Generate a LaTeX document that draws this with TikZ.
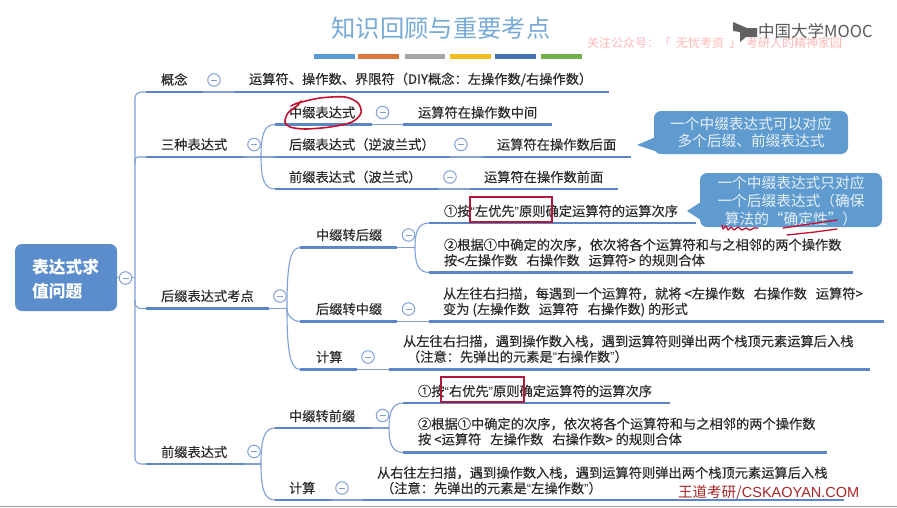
\documentclass[tikz,border=0pt]{standalone}
\usepackage{fontspec}
\setmainfont{Noto Sans CJK SC}
\newfontfamily\bodyfont[FakeBold=0.25]{Noto Sans CJK SC}
\newfontfamily\latq{Liberation Sans}
\newfontfamily\latn{Liberation Sans}
\usetikzlibrary{calc,shapes.callouts}
\definecolor{txt}{HTML}{2A2A2A}
\definecolor{thickc}{HTML}{5B86C8}
\definecolor{thinc}{HTML}{7F9FD6}
\definecolor{bub}{HTML}{5F9BCF}
\definecolor{rootc}{HTML}{5B8CCB}
\definecolor{inkred}{HTML}{C4102E}
\definecolor{boxred}{HTML}{B0183C}
\newcommand{\ql}{{\latq “}}
\newcommand{\qr}{{\latq ”}}
\newcommand{\gp}{\hspace{9pt}}
\tikzset{
  lbl/.style={anchor=west,inner sep=0pt,outer sep=0pt,align=left,text=txt,font=\bodyfont\fontsize{13.25}{15.5}\selectfont},
  thickline/.style={line width=2.6pt,draw=thickc,line cap=butt},
  thinline/.style={line width=1.1pt,draw=thinc},
  folder/.style={circle,draw=thinc,fill=white,line width=1pt,minimum size=12.5pt,inner sep=0pt,
    path picture={\draw[thinc,line width=.9pt] ([xshift=-3pt]path picture bounding box.center) -- ([xshift=3pt]path picture bounding box.center);}},
  bubtext/.style={inner sep=0pt,align=center,text=white!85!bub,font=\fontsize{14.7}{17.7}\selectfont},
  bar/.style={line width=5pt},
  mark box/.style={draw=boxred,line width=1.3pt,fill=none,inner sep=0pt},
  ink/.style={draw=inkred,line width=1.3pt,line cap=round,line join=round}
}
% \ul{name}{x1}{x2}{y}: thick underline with end coordinates name-l, name-r
\newcommand{\ul}[4]{\coordinate (#1-l) at (#2,#4);\coordinate (#1-r) at (#3,#4);\draw[thickline] (#1-l) -- (#1-r);}
\begin{document}
\begin{tikzpicture}[x=1pt,y=-1pt]
\useasboundingbox (0,0) rectangle (897,507);
\fill[white] (0,0) rectangle (897,507);
\draw[gray!80,line width=1.2pt] (0,506.2) -- (897,506.2);

% title
\node[inner sep=0pt,text=bub!85!white,font=\fontsize{24.3}{28}\selectfont] (title) at (441,28) {知识回顾与重要考点};
\foreach \xa/\xb/\c in {314/355/5B9BD5,358/399/D9773A,405/445/A5A5A5,450/491/F2BD1D,495/536/4472B4,541/582/72B04A}{
  \definecolor{barc}{HTML}{\c}
  \draw[bar,draw=barc] (\xa,56.5) -- (\xb,56.5);
}
\node[anchor=west,inner sep=0pt,text=red!28!white,font=\fontsize{12}{14}\selectfont] (wm) at (587,43) {关注公众号：「\hspace{5pt}无忧考资\hspace{5pt}」\hspace{5pt}考研人的精神家园};
\fill[black!62] (733,22) -- (747,28) -- (757,28) -- (757,37) -- (746,37) -- (740,42) -- (740,32) -- (733,31) -- cycle;
\node[anchor=west,inner sep=0pt,text=black!65,font=\fontsize{16.5}{18}\selectfont] (mooc) at (758,31) {中国大学MOOC};
\node[anchor=west,inner sep=0pt,text=red!60!black!85,font=\fontsize{14.5}{16}\selectfont] (wd) at (678,493) {王道考研/{\latn CSKAOYAN.COM}};

% root
\node[fill=rootc,rounded corners=7pt,minimum width=102pt,minimum height=67pt,inner sep=0pt] (root) at (66,277.5) {};
\node[anchor=west,inner sep=0pt,align=left,text=white,font=\fontsize{16.7}{24}\selectfont\bfseries] (roottext) at (32,279) {表达式求\\值问题};

% level 1 underlines
\ul{c1}{146}{203}{92}
\ul{c1b}{234}{609}{92}
\ul{t3}{146}{243}{157}
\ul{hz}{146}{269}{308.5}
\ul{qz}{146}{243}{464}
% level 2
\ul{zz}{275}{372}{124.5}
\ul{zzb}{403}{552}{124.5}
\ul{hh}{275}{450}{157}
\ul{hhb}{483}{631}{157}
\ul{qq}{275}{438}{189}
\ul{qqb}{470}{618}{189}
\ul{zh}{300}{397}{247.5}
\ul{hzz}{300}{397}{321.5}
\ul{js}{300}{357}{369.5}
\ul{jsb}{389}{870}{369.5}
\ul{zh1}{429}{696}{223}
\ul{zh2}{429}{853}{272.5}
\ul{hzzb}{429}{884}{321.5}
\ul{zq}{275}{372}{428}
\ul{qj}{275}{332}{500}
\ul{qjb}{363}{844}{500}
\ul{zq1}{403}{670}{403}
\ul{zq2}{403}{827}{452.5}

% trunk
\coordinate (trunk) at (135,277.5);
\draw[thinline] (root.east) -- (trunk);
\draw[thinline,rounded corners=6pt] (c1-l) -- (135,92) -- (135,464) -- (qz-l);
\draw[thinline,rounded corners=6pt] (135,300) -- (135,308.5) -- (hz-l);
\draw[thinline,rounded corners=3pt] (135,164) -- (135,157) -- (t3-l);

% straight thin links
\draw[thinline] (c1-r) -- (c1b-l);
\draw[thinline] (zz-r) -- (zzb-l);
\draw[thinline] (hh-r) -- (hhb-l);
\draw[thinline] (qq-r) -- (qqb-l);
\draw[thinline] (js-r) -- (jsb-l);
\draw[thinline] (hzz-r) -- (hzzb-l);
\draw[thinline] (qj-r) -- (qjb-l);

% junctions and curves
\coordinate (j3) at (261,157);
\draw[thinline] (t3-r) -- (hh-l);
\draw[thinline] (j3) .. controls (261,135) and (264,124.5) .. (zz-l);
\draw[thinline] (j3) .. controls (261,178) and (264,189) .. (qq-l);

\coordinate (jh) at (287,308.5);
\draw[thinline] (hz-r) -- (jh);
\draw[thinline] (jh) .. controls (287,270) and (289,247.5) .. (zh-l);
\draw[thinline] (jh) .. controls (287,316) and (293,321.5) .. (hzz-l);
\draw[thinline] (jh) .. controls (287,345) and (289,369.5) .. (js-l);

\coordinate (jz) at (415,247.5);
\draw[thinline] (zh-r) -- (jz);
\draw[thinline] (jz) .. controls (415,232) and (418,223) .. (zh1-l);
\draw[thinline] (jz) .. controls (415,263) and (418,272.5) .. (zh2-l);

\coordinate (jq) at (261,464);
\draw[thinline] (qz-r) -- (jq);
\draw[thinline] (jq) .. controls (261,440) and (264,428) .. (zq-l);
\draw[thinline] (jq) .. controls (261,488) and (264,500) .. (qj-l);

\coordinate (jq2) at (389,428);
\draw[thinline] (zq-r) -- (jq2);
\draw[thinline] (jq2) .. controls (389,413) and (392,403) .. (zq1-l);
\draw[thinline] (jq2) .. controls (389,443) and (392,452.5) .. (zq2-l);

% collapse buttons
\node[folder] (f0) at (125.5,278) {};
\node[folder] (f1) at (214,80) {};
\node[folder] (f2) at (254,144.5) {};
\node[folder] (f3) at (382.5,112.5) {};
\node[folder] (f4) at (461,144.5) {};
\node[folder] (f5) at (450,177) {};
\node[folder] (f6) at (280,296) {};
\node[folder] (f7) at (408.5,235) {};
\node[folder] (f8) at (408.5,309) {};
\node[folder] (f9) at (368,357) {};
\node[folder] (f10) at (254,451.5) {};
\node[folder] (f11) at (382.5,415.5) {};
\node[folder] (f12) at (342,488) {};

% labels
\node[lbl] (a1) at (161,79.5) {概念};
\node[lbl] (a2) at (249,79.5) {运算符、操作数、界限符（DIY概念：左操作数/右操作数）};
\node[lbl] (b1) at (161,144.5) {三种表达式};
\node[lbl] (b2) at (289,112.5) {中缀表达式};
\node[lbl] (b3) at (418,112.5) {运算符在操作数中间};
\node[lbl] (b4) at (289,144.5) {后缀表达式（逆波兰式）};
\node[lbl] (b5) at (497,144.5) {运算符在操作数后面};
\node[lbl] (b6) at (289,177) {前缀表达式（波兰式）};
\node[lbl] (b7) at (484,177) {运算符在操作数前面};
\node[lbl] (d1) at (161,296) {后缀表达式考点};
\node[lbl] (d2) at (316,235) {中缀转后缀};
\node[lbl] (d3) at (444,211) {①按\ql 左优先\qr 原则确定运算符的运算次序};
\node[lbl] (d4) at (444,252.5) {②根据①中确定的次序，依次将各个运算符和与之相邻的两个操作数\\按<左操作数\gp 右操作数\gp 运算符> 的规则合体};
\node[lbl] (d5) at (316,309) {后缀转中缀};
\node[lbl] (d6) at (443,302) {从左往右扫描，每遇到一个运算符，就将 <左操作数\gp 右操作数\gp 运算符>\\变为 (左操作数\gp 运算符\gp 右操作数) 的形式};
\node[lbl] (d7) at (316,357) {计算};
\node[lbl] (d8) at (403,349) {从左往右扫描，遇到操作数入栈，遇到运算符则弹出两个栈顶元素运算后入栈\\\hspace*{4pt}（注意：先弹出的元素是\ql 右操作数\qr）};
\node[lbl] (e1) at (161,452) {前缀表达式};
\node[lbl] (e2) at (289,416) {中缀转前缀};
\node[lbl] (e3) at (418,391) {①按\ql 右优先\qr 原则确定运算符的运算次序};
\node[lbl] (e4) at (418,431.5) {②根据①中确定的次序，依次将各个运算符和与之相邻的两个操作数\\按 <运算符\gp 左操作数\gp 右操作数> 的规则合体};
\node[lbl] (e5) at (289,488) {计算};
\node[lbl] (e6) at (377,480.5) {从右往左扫描，遇到操作数入栈，遇到运算符则弹出两个栈顶元素运算后入栈\\\hspace*{4pt}（注意：先弹出的元素是\ql 左操作数\qr）};

% red boxes
\node[mark box,minimum width=82pt,minimum height=25pt] (rb1) at (511,209.5) {};
\node[mark box,minimum width=83pt,minimum height=25pt] (rb2) at (482.5,389.5) {};

% callouts
\fill[bub,rounded corners=7pt] (654,111) rectangle (848,154);
\fill[bub] (637,145) -- (658,136) -- (658,152) -- cycle;
\node[bubtext] (n1) at (751,132.5) {一个中缀表达式可以对应\\多个后缀、前缀表达式};
\fill[bub,rounded corners=7pt] (700,173) rectangle (882,227);
\fill[bub] (687,211) -- (704,200) -- (704,222) -- cycle;
\node[bubtext] (n2) at (791,201) {一个中缀表达式只对应\\一个后缀表达式（确保\\算法的“确定性”）};

% ink
\draw[ink,line width=1.6pt] plot[smooth] coordinates {(291,106) (298,103) (320,98) (345,97) (358,103) (361,113) (352,122) (330,127) (305,129) (290,127) (285,122) (288,113) (298,105) (301,101)};
\draw[ink] (722,225) -- (723,229) -- (726,226) -- (728,230) -- (731,227) -- (734,230) -- (738,227) -- (742,230) -- (746,228) -- (750,230) -- (754,228) -- (758,228);
\draw[ink] (783,228) -- (810,224) -- (837,220);
\draw[ink] (787,235) -- (815,232) -- (837,229);
\end{tikzpicture}
\end{document}
